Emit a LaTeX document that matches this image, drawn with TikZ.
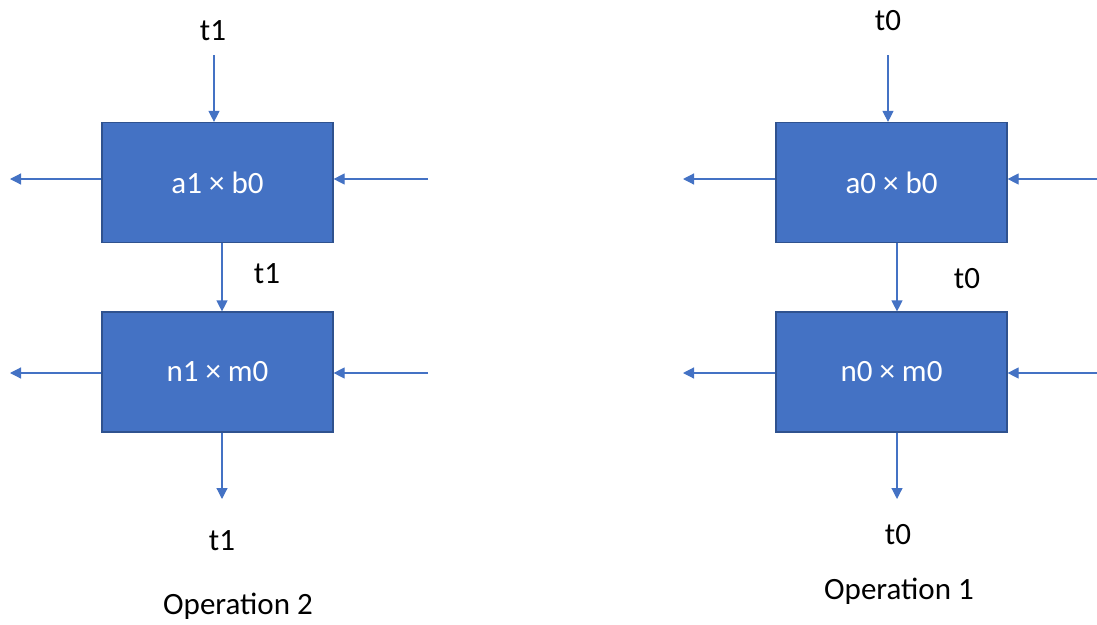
\documentclass[tikz,border=0pt]{standalone}
\usepackage{fontspec}
\setmainfont{Carlito}
\usetikzlibrary{arrows.meta}
\definecolor{boxfill}{HTML}{4472C4}
\definecolor{boxline}{HTML}{2F528F}
\tikzset{
  op/.style={draw=boxline, line width=1.2pt, fill=boxfill, minimum width=231pt,
    minimum height=120pt, inner sep=0pt, text=white, font=\fontsize{31}{36}\selectfont},
  lbl/.style={font=\fontsize{31}{36}\selectfont, inner sep=0pt},
  flow/.style={draw=boxfill, line width=1.2pt, -{Triangle[length=11pt,width=11pt]}}
}
\begin{document}
\begin{tikzpicture}[x=1pt,y=-1pt]
\useasboundingbox (0,0) rectangle (1097,624);
% Operation 2
\node[op] (a1) at (217.5,182.5) {a1 × b0};
\node[op] (n1) at (217.5,372) {n1 × m0};
\node[lbl] (t1top) at (213,31) {t1};
\node[lbl] (t1mid) at (267,274) {t1};
\node[lbl] (t1bot) at (222,541) {t1};
\node[lbl] (op2) at (238,606) {Operation 2};
\coordinate (a1in) at (214,55);
\coordinate (a1l) at (10,179);
\coordinate (a1r) at (428,179);
\coordinate (n1l) at (10,373);
\coordinate (n1r) at (428,373);
\coordinate (n1out) at (222,499);
\draw[flow] (a1in) -- (a1in |- a1.north);
\draw[flow] (a1l -| a1.west) -- (a1l);
\draw[flow] (a1r) -- (a1r -| a1.east);
\draw[flow] (n1out |- a1.south) -- (n1out |- n1.north);
\draw[flow] (n1l -| n1.west) -- (n1l);
\draw[flow] (n1r) -- (n1r -| n1.east);
\draw[flow] (n1out |- n1.south) -- (n1out);
% Operation 1
\node[op] (a0) at (891.5,182.5) {a0 × b0};
\node[op] (n0) at (891.5,372) {n0 × m0};
\node[lbl] (t0top) at (888,21) {t0};
\node[lbl] (t0mid) at (967,279) {t0};
\node[lbl] (t0bot) at (898,535) {t0};
\node[lbl] (op1) at (899,591) {Operation 1};
\coordinate (a0in) at (888,55);
\coordinate (a0l) at (683,179);
\coordinate (a0r) at (1097,179);
\coordinate (n0l) at (683,373);
\coordinate (n0r) at (1097,373);
\coordinate (n0out) at (897,499);
\draw[flow] (a0in) -- (a0in |- a0.north);
\draw[flow] (a0l -| a0.west) -- (a0l);
\draw[flow] (a0r) -- (a0r -| a0.east);
\draw[flow] (n0out |- a0.south) -- (n0out |- n0.north);
\draw[flow] (n0l -| n0.west) -- (n0l);
\draw[flow] (n0r) -- (n0r -| n0.east);
\draw[flow] (n0out |- n0.south) -- (n0out);
\end{tikzpicture}
\end{document}
